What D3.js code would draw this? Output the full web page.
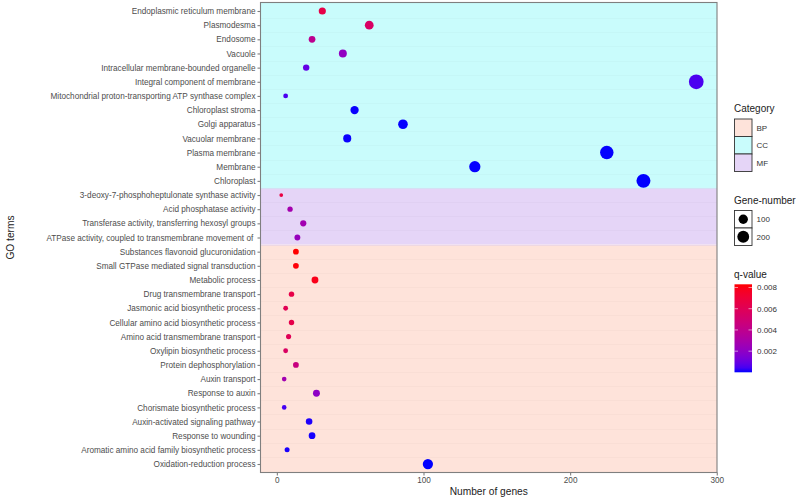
<!DOCTYPE html>
<html>
<head>
<meta charset="utf-8">
<script src="https://cdn.jsdelivr.net/npm/d3@7"></script>
<style>
  html, body { margin: 0; padding: 0; background: #fff; }
  svg { display: block; font-family: "Liberation Sans", Arial, sans-serif; }
</style>
</head>
<body>
<svg id="chart" width="800" height="499"></svg>
<script>
// ---------- data (top to bottom) ----------
const terms = [
  "Endoplasmic reticulum membrane",
  "Plasmodesma",
  "Endosome",
  "Vacuole",
  "Intracellular membrane-bounded organelle",
  "Integral component of membrane",
  "Mitochondrial proton-transporting ATP synthase complex",
  "Chloroplast stroma",
  "Golgi apparatus",
  "Vacuolar membrane",
  "Plasma membrane",
  "Membrane",
  "Chloroplast",
  "3-deoxy-7-phosphoheptulonate synthase activity",
  "Acid phosphatase activity",
  "Transferase activity, transferring hexosyl groups",
  "ATPase activity, coupled to transmembrane movement of ",
  "Substances flavonoid glucuronidation",
  "Small GTPase mediated signal transduction",
  "Metabolic process",
  "Drug transmembrane transport",
  "Jasmonic acid biosynthetic process",
  "Cellular amino acid biosynthetic process",
  "Amino acid transmembrane transport",
  "Oxylipin biosynthetic process",
  "Protein dephosphorylation",
  "Auxin transport",
  "Response to auxin",
  "Chorismate biosynthetic process",
  "Auxin-activated signaling pathway",
  "Response to wounding",
  "Aromatic amino acid family biosynthetic process",
  "Oxidation-reduction process"
];
const categoryOf = [
  "CC","CC","CC","CC","CC","CC","CC","CC","CC","CC","CC","CC","CC",
  "MF","MF","MF","MF",
  "BP","BP","BP","BP","BP","BP","BP","BP","BP","BP","BP","BP","BP","BP","BP","BP"
];
const geneNumbers = [
  31, 63, 24, 45, 20, 286, 6, 53, 86, 48, 225, 135, 250,
  3, 9, 18, 14,
  13, 13, 26, 10, 6, 10, 8, 6, 13, 5, 27, 5, 22, 24, 7, 103
];
const qValues = [
  0.0065, 0.0055, 0.0039, 0.0021, 0.0009, 0.0005, 0.0005, 0.00003, 0.00002, 0.00003, 0.00002, 0.00002, 0.00001,
  0.0067, 0.0028, 0.0027, 0.0023,
  0.0083, 0.0082, 0.0079, 0.0065, 0.0061, 0.0064, 0.0060, 0.0056, 0.0045, 0.0027, 0.0020, 0.0004, 0.0001, 0.00006, 0.00008, 0.00001
];
const categories = ["BP", "CC", "MF"];
const categoryColors = ["#FEE3DA", "#C9FCFC", "#E5D5F7"];
const xTicks = [0, 100, 200, 300];
const sizeLegendValues = [100, 200];
const qTicks = [0.002, 0.004, 0.006, 0.008];

// ---------- layout ----------
const svg = d3.select("#chart");
const panel = { left: 260.5, right: 717, top: 2.5, bottom: 472.5 };
const axisGray = "#7f7f7f";
const textGray = "#4d4d4d";

const data = terms.map((t, i) => ({
  term: t, cat: categoryOf[i], n: geneNumbers[i], q: qValues[i]
}));

// x scale with ggplot-like 5% expansion
const nExt = d3.extent(geneNumbers);
const pad = (nExt[1] - nExt[0]) * 0.05;
const x = d3.scaleLinear().domain([nExt[0] - pad, nExt[1] + pad]).range([panel.left, panel.right]);

const y = d3.scalePoint().domain(terms).range([panel.top, panel.bottom]).padding(0.6);
const step = y.step();

const catColor = d3.scaleOrdinal().domain(categories).range(categoryColors);

const qExt = d3.extent(qValues);
const color = d3.scaleLinear().domain(qExt).range(["#0000FF", "#FF0000"]).interpolate(d3.interpolateLab);

// size: ggplot area scale (range 1..6), converted to pixel radius
const sizeNorm = d3.scaleLinear().domain(nExt).range([0, 1]).clamp(true);
const sizeMM = v => 1 + 5 * Math.sqrt(sizeNorm(v));
const radius = v => 0.75 + 1.1 * sizeMM(v);

// ---------- background bands ----------
const bandG = svg.append("g");
categories.forEach(c => {
  const rows = data.filter(d => d.cat === c);
  if (!rows.length) return;
  let top = d3.min(rows, d => y(d.term)) - step / 2;
  let bot = d3.max(rows, d => y(d.term)) + step / 2;
  if (rows[0].term === terms[0]) top = panel.top;
  if (rows[rows.length - 1].term === terms[terms.length - 1]) bot = panel.bottom;
  bandG.append("rect")
    .attr("x", panel.left).attr("y", top)
    .attr("width", panel.right - panel.left).attr("height", bot - top)
    .attr("fill", catColor(c));
});
// faint row seams
bandG.selectAll("line.seam")
  .data(data.slice(0, -1))
  .join("line")
  .attr("class", "seam")
  .attr("x1", panel.left).attr("x2", panel.right)
  .attr("y1", d => Math.round(y(d.term) + step / 2) + 0.5)
  .attr("y2", d => Math.round(y(d.term) + step / 2) + 0.5)
  .attr("stroke", d => d3.color(catColor(d.cat)).darker(0.12))
  .attr("stroke-width", 1)
  .attr("opacity", 0.45);

// ---------- points ----------
svg.append("g").selectAll("circle")
  .data(data)
  .join("circle")
  .attr("cx", d => x(d.n))
  .attr("cy", d => y(d.term))
  .attr("r", d => radius(d.n))
  .attr("fill", d => color(d.q));

// ---------- panel border ----------
svg.append("rect")
  .attr("x", panel.left).attr("y", panel.top)
  .attr("width", panel.right - panel.left).attr("height", panel.bottom - panel.top)
  .attr("fill", "none").attr("stroke", axisGray).attr("stroke-width", 1.1);

// ---------- axes ----------
const yAxis = svg.append("g")
  .attr("transform", `translate(${panel.left},0)`)
  .call(d3.axisLeft(y).tickSize(3).tickPadding(2));
yAxis.select(".domain").remove();
yAxis.selectAll(".tick line").attr("stroke", axisGray).attr("stroke-width", 1.1);
yAxis.selectAll(".tick text")
  .attr("fill", textGray)
  .style("font-size", "8.2px")
  .style("white-space", "pre")
  .style("font-family", "'Liberation Sans', Arial, sans-serif");

const xAxis = svg.append("g")
  .attr("transform", `translate(0,${panel.bottom})`)
  .call(d3.axisBottom(x).tickValues(xTicks).tickFormat(d3.format("d")).tickSize(3).tickPadding(2));
xAxis.select(".domain").remove();
xAxis.selectAll(".tick line").attr("stroke", axisGray).attr("stroke-width", 1.1);
xAxis.selectAll(".tick text")
  .attr("fill", textGray)
  .style("font-size", "8.2px")
  .style("font-family", "'Liberation Sans', Arial, sans-serif");

// axis titles
svg.append("text")
  .attr("x", (panel.left + panel.right) / 2).attr("y", 495)
  .attr("text-anchor", "middle")
  .attr("fill", "#222").style("font-size", "10.2px")
  .text("Number of genes");
svg.append("text")
  .attr("transform", `translate(13.5,${(panel.top + panel.bottom) / 2}) rotate(-90)`)
  .attr("text-anchor", "middle")
  .attr("fill", "#222").style("font-size", "10.2px")
  .text("GO terms");

// ---------- legends ----------
const lx = 734, kw = 17.5, kh = 17.5;
const leg = svg.append("g");

// Category
leg.append("text").attr("x", lx).attr("y", 112).attr("fill", "#222").style("font-size", "10px").text("Category");
categories.forEach((c, i) => {
  const yy = 119 + i * kh;
  leg.append("rect").attr("x", lx + 0.5).attr("y", yy).attr("width", kw).attr("height", kh)
    .attr("fill", catColor(c)).attr("stroke", "#333").attr("stroke-width", 0.9);
  leg.append("text").attr("x", lx + kw + 5).attr("y", yy + kh / 2 + 3).attr("fill", "#333")
    .style("font-size", "8px").text(c);
});

// Gene-number
leg.append("text").attr("x", lx).attr("y", 204).attr("fill", "#222").style("font-size", "10px").text("Gene-number");
sizeLegendValues.forEach((v, i) => {
  const yy = 210.5 + i * kh;
  leg.append("rect").attr("x", lx + 0.5).attr("y", yy).attr("width", kw).attr("height", kh)
    .attr("fill", "#fff").attr("stroke", "#333").attr("stroke-width", 0.9);
  leg.append("circle").attr("cx", lx + 0.5 + kw / 2).attr("cy", yy + kh / 2)
    .attr("r", radius(v) * 0.92).attr("fill", "#000");
  leg.append("text").attr("x", lx + kw + 5).attr("y", yy + kh / 2 + 3).attr("fill", "#333")
    .style("font-size", "8px").text(v);
});

// q-value colourbar
leg.append("text").attr("x", lx).attr("y", 278).attr("fill", "#222").style("font-size", "10px").text("q-value");
const barTop = 284.3, barBot = 372.3, barW = 17.5;
const defs = svg.append("defs");
const grad = defs.append("linearGradient").attr("id", "qgrad")
  .attr("x1", 0).attr("y1", 1).attr("x2", 0).attr("y2", 0);
d3.range(0, 1.0001, 0.05).forEach(t => {
  grad.append("stop").attr("offset", t)
    .attr("stop-color", color(qExt[0] + t * (qExt[1] - qExt[0])));
});
leg.append("rect").attr("x", lx + 0.5).attr("y", barTop).attr("width", barW).attr("height", barBot - barTop)
  .attr("fill", "url(#qgrad)");
const qy = d3.scaleLinear().domain(qExt).range([barBot, barTop]);
qTicks.forEach(t => {
  const yy = qy(t);
  leg.append("line").attr("x1", lx + 0.5).attr("x2", lx + 4).attr("y1", yy).attr("y2", yy)
    .attr("stroke", "#fff").attr("stroke-opacity", 0.7).attr("stroke-width", 0.8);
  leg.append("line").attr("x1", lx + barW - 3).attr("x2", lx + barW + 0.5).attr("y1", yy).attr("y2", yy)
    .attr("stroke", "#fff").attr("stroke-opacity", 0.7).attr("stroke-width", 0.8);
  leg.append("text").attr("x", lx + barW + 5.5).attr("y", yy + 3).attr("fill", "#333")
    .style("font-size", "8px").text(d3.format(".3f")(t));
});
</script>
</body>
</html>
